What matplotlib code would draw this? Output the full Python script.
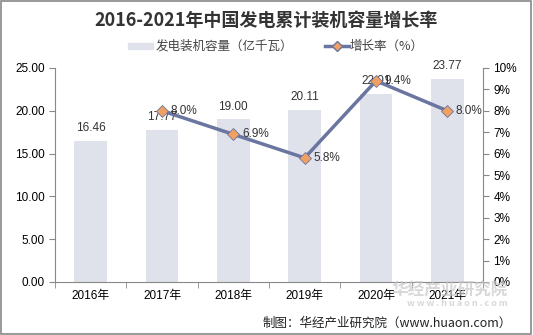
import matplotlib.pyplot as plt
from matplotlib.patches import Rectangle
from matplotlib.ticker import FuncFormatter

plt.rcParams['font.family'] = ['Noto Sans CJK SC', 'DejaVu Sans']

years = ['2016年', '2017年', '2018年', '2019年', '2020年', '2021年']
capacity = [16.46, 17.77, 19.00, 20.11, 22.01, 23.77]
growth = [None, 8.0, 6.9, 5.8, 9.4, 8.0]

bar_color = '#dfe2ea'
line_color = '#6a75a0'
marker_color = '#f0a060'

fig = plt.figure(figsize=(5.33, 3.35), dpi=100)
fig.patches.append(Rectangle((0.002, 0.003), 0.995, 0.994, transform=fig.transFigure,
                             fill=False, edgecolor='#888888', linewidth=1.2))

ax = fig.add_axes([55 / 533, 1 - 282 / 335, (483 - 55) / 533, (282 - 68) / 335])
x = list(range(len(years)))
ax.bar(x, capacity, width=0.46, color=bar_color, zorder=1)
for xi, v in zip(x, capacity):
    ax.text(xi, v + 0.8, f'{v:.2f}', ha='center', va='bottom', fontsize=8.5,
            family=['Liberation Sans', 'DejaVu Sans'], color='#333333')

ax.set_xlim(-0.5, len(years) - 0.5)
ax.set_ylim(0, 25)
ax.set_yticks([0, 5, 10, 15, 20, 25])
ax.yaxis.set_major_formatter(FuncFormatter(lambda v, p: f'{v:.2f}'))
ax.set_xticks(x)
ax.set_xticklabels(years)
ax.set_xticks([i - 0.5 for i in range(len(years) + 1)], minor=True)
ax.tick_params(axis='x', which='major', length=0, labelsize=8.5, pad=6)
ax.tick_params(axis='x', which='minor', length=4, color='#888888')
ax.tick_params(axis='y', labelsize=8.5, length=4, color='#888888', direction='out')
for lbl in ax.get_yticklabels() + ax.get_xticklabels():
    lbl.set_family(['Liberation Sans', 'Noto Sans CJK SC'])
for s in ['top', 'right']:
    ax.spines[s].set_visible(False)
ax.spines['left'].set_color('#888888')
ax.spines['bottom'].set_color('#888888')

ax2 = ax.twinx()
gx = [xi for xi, g in zip(x, growth) if g is not None]
gy = [g for g in growth if g is not None]
ax2.plot(gx, gy, color=line_color, linewidth=2.5, marker='D', markersize=6,
         markerfacecolor=marker_color, markeredgecolor=line_color, markeredgewidth=0.6, zorder=3)
for xi, g in zip(gx, gy):
    ax2.text(xi + 0.12, g, f'{g:.1f}%', ha='left', va='center', fontsize=8.5,
             family=['Liberation Sans', 'DejaVu Sans'], color='#333333')
ax2.set_ylim(0, 10)
ax2.set_yticks(range(0, 11))
ax2.yaxis.set_major_formatter(FuncFormatter(lambda v, p: f'{int(v)}%'))
ax2.tick_params(axis='y', labelsize=8.5, length=4, color='#888888')
for lbl in ax2.get_yticklabels():
    lbl.set_family(['Liberation Sans', 'DejaVu Sans'])
for s in ['top', 'left', 'bottom']:
    ax2.spines[s].set_visible(False)
ax2.spines['right'].set_color('#888888')

fig.text(0.5, 1 - 21 / 335, '2016-2021年中国发电累计装机容量增长率', ha='center', va='center',
         fontsize=13, fontweight='bold', color='#333333')

# legend
lx = 128 / 533
ly = 1 - 46 / 335
fig.patches.append(Rectangle((lx, ly - 0.008), 25 / 533, 0.016, transform=fig.transFigure,
                             color=bar_color))
fig.text(lx + 28 / 533, ly, '发电装机容量（亿千瓦）', ha='left', va='center', fontsize=9, color='#444444')
fig.lines.append(plt.Line2D([325 / 533, 349 / 533], [ly, ly], transform=fig.transFigure,
                            color=line_color, linewidth=2.5))
fig.lines.append(plt.Line2D([337 / 533], [ly], transform=fig.transFigure, marker='D', markersize=5,
                            markerfacecolor=marker_color, markeredgecolor=line_color, linestyle='none'))
fig.text(350 / 533, ly, '增长率（%）', ha='left', va='center', fontsize=9, color='#444444')

# watermark
fig.text(508 / 533, 1 - 290 / 335, '华经产业研究院', ha='right', va='center', fontsize=12,
         fontweight='bold', color='#c8c8c8', alpha=0.7)
fig.text(508 / 533, 1 - 304 / 335, 'w w w . h u a o n . c o m', ha='right', va='center', fontsize=6.5,
         fontweight='bold', color='#c8c8c8', alpha=0.7)

fig.text(0.96, 1 - 323 / 335, '制图：华经产业研究院（www.huaon.com）', ha='right', va='center',
         fontsize=9, color='#222222')

fig.savefig('out.png', dpi=100)
